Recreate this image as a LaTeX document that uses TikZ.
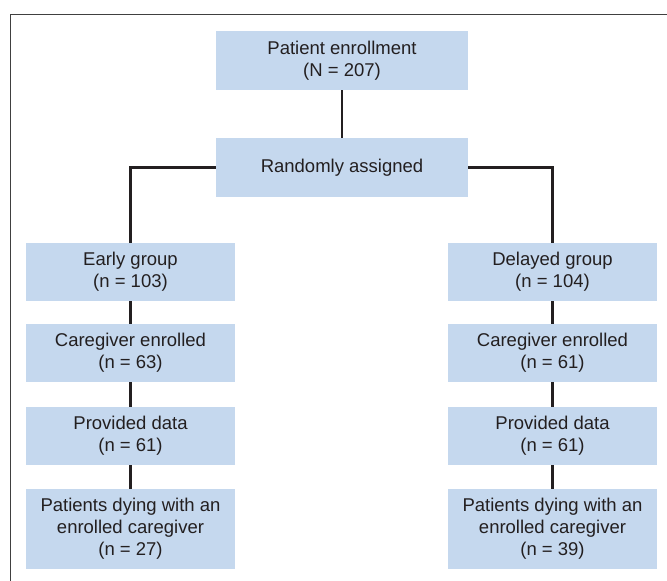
\documentclass[tikz,border=0pt]{standalone}
\usepackage{fontspec}
\setmainfont{Liberation Sans}
\usepackage{tikz}
\usetikzlibrary{calc}
\definecolor{boxblue}{HTML}{C5D8EE}
\definecolor{ink}{HTML}{231F20}

\begin{document}
\begin{tikzpicture}[x=1pt,y=-1pt,
	box/.style={fill=boxblue,text=ink,align=center,inner sep=0pt,minimum width=209pt,minimum height=58pt,font=\fontsize{18.5}{22}\selectfont},
	wide/.style={box,minimum width=252pt,minimum height=59pt},
	tall/.style={box,minimum height=80pt},
	link/.style={draw=ink,line width=2.2pt}]
	\useasboundingbox (0,0) rectangle (667,581);
	\draw[black!75,line width=1pt] (10,581) -- (10,14) -- (667,14);
	
	\node[wide] (enroll) at (342,60.5) {Patient enrollment\\(N = 207)};
	\node[wide] (random) at (342,167.5) {Randomly assigned};
	
	\node[box] (early) at (130.5,272) {Early group\\(n = 103)};
	\node[box] (careE) at (130.5,353) {Caregiver enrolled\\(n = 63)};
	\node[box] (dataE) at (130.5,436) {Provided data\\(n = 61)};
	\node[tall] (dyingE) at (130.5,529) {Patients dying with an\\enrolled caregiver\\(n = 27)};
	
	\node[box] (delayed) at (552.5,272) {Delayed group\\(n = 104)};
	\node[box] (careD) at (552.5,353) {Caregiver enrolled\\(n = 61)};
	\node[box] (dataD) at (552.5,436) {Provided data\\(n = 61)};
	\node[tall] (dyingD) at (552.5,529) {Patients dying with an\\enrolled caregiver\\(n = 39)};
	
	\draw[link] (enroll) -- (random);
	\draw[link] (random.west) -| (early.north);
	\draw[link] (random.east) -| (delayed.north);
	\draw[link] (early) -- (careE);
	\draw[link] (careE) -- (dataE);
	\draw[link] (dataE) -- (dyingE);
	\draw[link] (delayed) -- (careD);
	\draw[link] (careD) -- (dataD);
	\draw[link] (dataD) -- (dyingD);
\end{tikzpicture}
\end{document}
